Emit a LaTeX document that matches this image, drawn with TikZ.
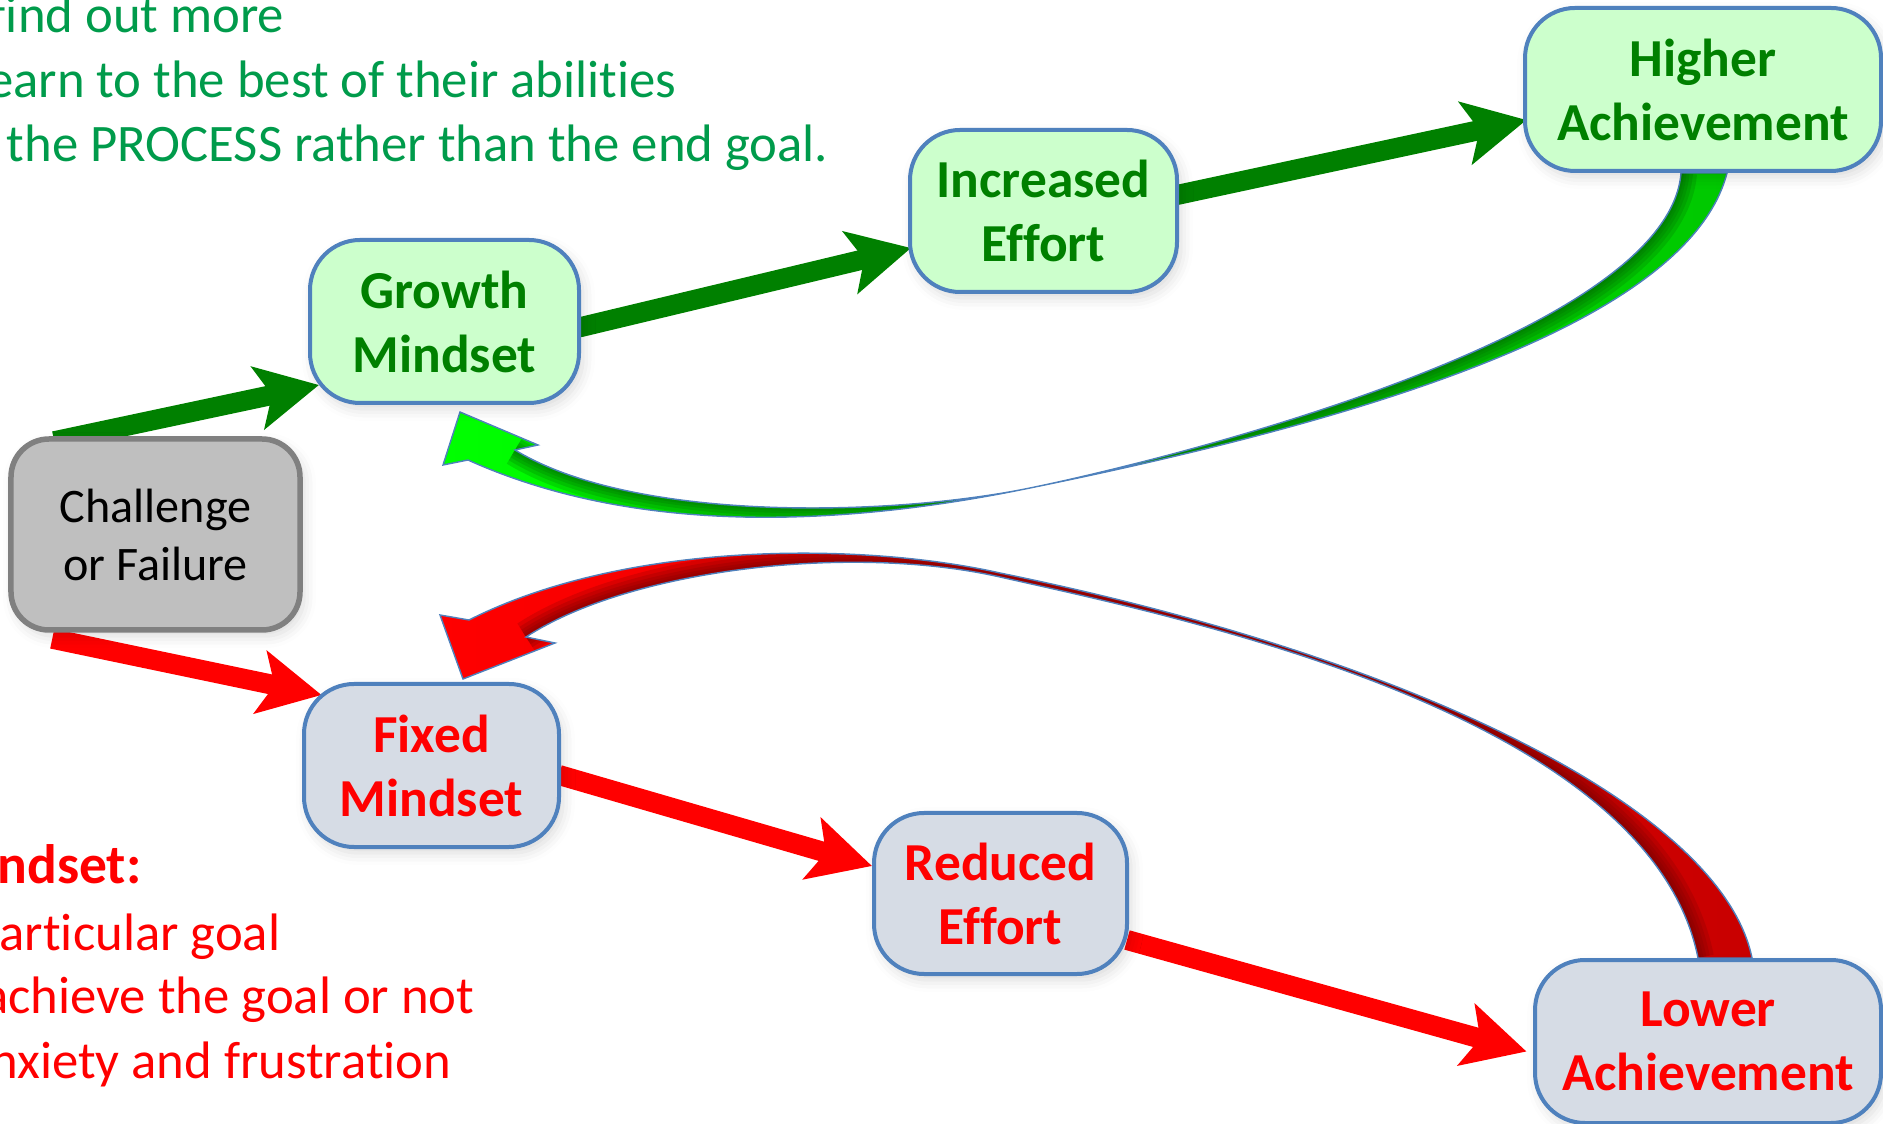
\documentclass[tikz,border=0pt]{standalone}
\usepackage{fontspec}
\setmainfont{Carlito}[Ligatures=NoCommon]
\usetikzlibrary{positioning,arrows.meta,shadows.blur}

\definecolor{boxblue}{RGB}{79,129,189}
\definecolor{goodfill}{RGB}{204,255,204}
\definecolor{badfill}{RGB}{214,220,229}
\definecolor{goodtext}{RGB}{0,128,0}
\definecolor{notegreen}{RGB}{0,155,75}
\definecolor{challfill}{RGB}{191,191,191}
\definecolor{challdraw}{RGB}{128,128,128}
\definecolor{loopbright}{RGB}{0,255,0}
\definecolor{loopmid}{RGB}{0,200,0}
\definecolor{loopdark}{RGB}{0,105,0}
\definecolor{dropbright}{RGB}{255,0,0}
\definecolor{dropmid}{RGB}{200,0,0}
\definecolor{dropdark}{RGB}{120,0,0}

\newcommand{\mindboxfont}{\fontsize{15.2}{18.2}\selectfont\bfseries}
\newcommand{\mindnotefont}{\fontsize{15}{18.2}\selectfont}

\pgfdeclarelayer{background}
\pgfsetlayers{background,main}

% outline of the curved feedback arrows
\newcommand{\greenloop}{(gh1) .. controls +(-0.40,-1.55) and +(3.11,0.635) .. (gpinch)
    .. controls +(-1.75,-0.36) and +(1.75,-0.79) .. ([shift={(0.08,-0.48)}]gtip)
    -- ([shift={(-0.17,-0.53)}]gtip) -- (gtip) -- ([shift={(0.78,-0.33)}]gtip)
    -- ([shift={(0.55,-0.38)}]gtip)
    .. controls +(1.21,-0.736) and +(-1.36,-0.28) .. (gpinch)
    .. controls +(1.32,0.27) and +(-0.13,-1.64) .. (gh0) -- cycle}
\newcommand{\greeninner}{([shift={(0.55,-0.38)}]gtip)
    .. controls +(1.21,-0.736) and +(-1.36,-0.28) .. (gpinch)
    .. controls +(1.32,0.27) and +(-0.13,-1.64) .. (gh0)}
\newcommand{\redloop}{(rl1) .. controls +(-0.303,1.485) and +(4.14,-0.845) .. ([yshift=0.02cm]rpinch)
    .. controls +(-1.376,0.31) and +(1.576,0.797) .. ([shift={(0.06,0.59)}]rtip)
    -- ([shift={(-0.23,0.64)}]rtip) -- (rtip) -- ([shift={(0.92,0.36)}]rtip)
    -- ([shift={(0.63,0.42)}]rtip)
    .. controls +(1.028,0.673) and +(-1.508,0.34) .. ([yshift=-0.02cm]rpinch)
    .. controls +(1.77,-0.399) and +(-0.49,2.452) .. (rl0) -- cycle}
\newcommand{\redinner}{([shift={(0.63,0.42)}]rtip)
    .. controls +(1.028,0.673) and +(-1.508,0.34) .. ([yshift=-0.02cm]rpinch)
    .. controls +(1.77,-0.399) and +(-0.49,2.452) .. (rl0)}

\tikzset{
    mindbox/.style={draw=boxblue, line width=0.04cm, rounded corners=0.5cm,
        align=center, font=\mindboxfont, inner sep=0pt,
        blur shadow={shadow xshift=0.04cm, shadow yshift=-0.06cm,
            shadow blur radius=0.12cm, shadow opacity=15}},
    goodbox/.style={mindbox, fill=goodfill, text=goodtext},
    badbox/.style={mindbox, fill=badfill, text=red},
    challbox/.style={mindbox, draw=challdraw, fill=challfill, line width=0.055cm,
        rounded corners=0.38cm, text=black,
        font=\fontsize{13.7}{16.5}\selectfont},
    note/.style={anchor=base east, inner sep=0pt, font=\mindnotefont},
    goarrow/.style={color=goodtext, line width=0.2cm,
        -{Stealth[length=0.62cm,width=0.63cm,inset=0.14cm]}},
    stoparrow/.style={goarrow, color=red},
    loopedge/.style={draw=boxblue, line width=0.4pt}
}

\begin{document}
\begin{tikzpicture}
    \useasboundingbox (0,0) rectangle (18.83,11.23);

    % Notes, cut off at the left edge
    \node[note, text=notegreen] (gnote1) at (2.85,10.90) {find out more};
    \node[note, text=notegreen] (gnote2) at (6.77,10.25) {earn to the best of their abilities};
    \node[note, text=notegreen] (gnote3) at (8.29,9.61) {the PROCESS rather than the end goal.};
    \node[note, text=red, font=\fontsize{15.8}{18.2}\selectfont\bfseries] (fhead) at (1.42,2.40) {ndset:};
    \node[note, text=red] (fnote1) at (2.81,1.73) {articular goal};
    \node[note, text=red] (fnote2) at (4.75,1.10) {achieve the goal or not};
    \node[note, text=red] (fnote3) at (4.52,0.45) {nxiety and frustration};

    % Growth path
    \node[goodbox, minimum width=2.69cm, minimum height=1.63cm] (growth) at (4.445,8.015) {Growth\\Mindset};
    \node[goodbox, minimum width=2.67cm, minimum height=1.62cm] (increased) at (10.435,9.12) {Increased\\Effort};
    \node[goodbox, minimum width=3.56cm, minimum height=1.63cm] (higher) at (17.03,10.335) {Higher\\Achievement};

    % Start
    \node[challbox, minimum width=2.89cm, minimum height=1.91cm] (challenge) at (1.555,5.885) {Challenge\\or Failure};

    % Fixed path
    \node[badbox, minimum width=2.55cm, minimum height=1.63cm] (fixed) at (4.315,3.575) {Fixed\\Mindset};
    \node[badbox, minimum width=2.53cm, minimum height=1.61cm] (reduced) at (10.005,2.295) {Reduced\\Effort};
    \node[badbox, minimum width=3.46cm, minimum height=1.63cm] (lower) at (17.08,0.815) {Lower\\Achievement};

    % Ends of the feedback loops
    \coordinate (gh1) at ([xshift=0.24cm]higher.south);
    \coordinate (gh0) at ([xshift=-0.22cm]higher.south);
    \coordinate (gtip) at ([shift={(0.155,-0.07)}]growth.south);
    \coordinate (gpinch) at (10.30,6.35);
    \coordinate (rl1) at ([xshift=0.44cm]lower.north);
    \coordinate (rl0) at ([xshift=-0.10cm]lower.north);
    \coordinate (rtip) at ([shift={(0.315,0.03)}]fixed.north);
    \coordinate (rpinch) at (10.00,5.48);

    \begin{pgfonlayer}{background}
        % Feedback loops
        \fill[left color=loopbright, right color=loopmid] \greenloop;
        \begin{scope}
            \clip \greenloop;
            \foreach \w in {0.32,0.24,0.17,0.11,0.06}
                \draw[loopdark, line width=\w cm, opacity=0.22] \greeninner;
        \end{scope}
        \draw[loopedge] \greenloop;

        \fill[left color=dropbright, right color=dropmid] \redloop;
        \begin{scope}
            \clip \redloop;
            \foreach \w in {0.32,0.24,0.17,0.11,0.06}
                \draw[dropdark, line width=\w cm, opacity=0.22] \redinner;
        \end{scope}
        \draw[loopedge] \redloop;

        % Straight steps
        \draw[goarrow] ([shift={(0.46,-0.05)}]challenge.north west) -- ([shift={(0.11,0.20)}]growth.south west);
        \draw[goarrow] ([shift={(-0.02,-0.06)}]growth.east) -- ([shift={(0.03,-0.37)}]increased.west);
        \draw[goarrow] ([shift={(-0.02,0.16)}]increased.east) -- ([shift={(0.035,-0.305)}]higher.west);
        \draw[stoparrow] ([shift={(0.44,-0.06)}]challenge.south west) -- ([shift={(0.196,-0.13)}]fixed.north west);
        \draw[stoparrow] ([shift={(-0.02,-0.095)}]fixed.east) -- ([shift={(0,0.275)}]reduced.west);
        \draw[stoparrow] ([shift={(-0.02,-0.465)}]reduced.east) -- ([shift={(-0.065,-0.10)}]lower.west);
    \end{pgfonlayer}
\end{tikzpicture}
\end{document}
